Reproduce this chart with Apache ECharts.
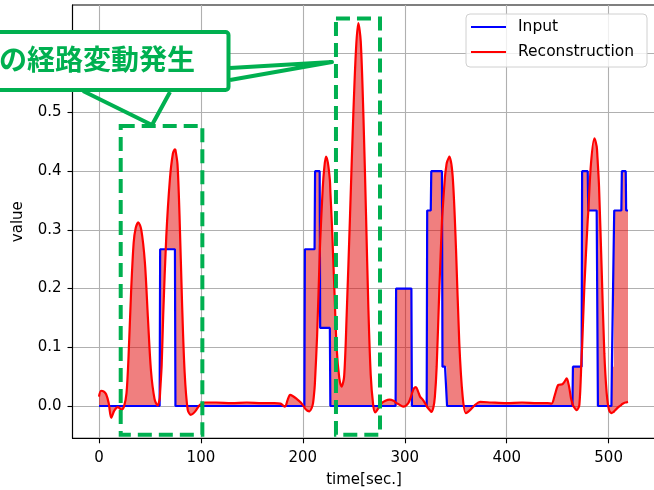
<!DOCTYPE html>
<html><head><meta charset="utf-8">
<script src="https://cdn.jsdelivr.net/npm/echarts@6/dist/echarts.min.js"></script>
<style>html,body{margin:0;padding:0;background:#fff}#c{width:654px;height:490px}</style>
</head><body><div id="c"></div>
<script>
// time [sec.]  (10 samples per line; the three arrays below are aligned line by line)
const time = [
  0,2,4.5,7,9.5,12,15,18.5,22,24.5,
  27,29,31.5,34,36,38.5,41.5,45,48,51,
  54.5,57.5,59.5,60,61.5,63,66,69.5,72.5,74.5,
  75,77,79,81.5,84,87,90,94,99,104,
  115,130,145,160,172,178,182.5,185,187.5,190,
  194,198,201.5,202,204.5,206.5,208.5,210,211.5,212,
  214,216.5,217,219.5,221,222.7,224.5,226.5,227,228.5,
  231,233.2,235.8,238,240.5,243,246.3,249.5,252.2,254.4,
  256.8,259.4,262,264.3,266.6,269,271,274,277.5,281,
  285,289,291,291.5,294,298.5,303.5,306.5,307,309,
  311,313,315,318,321.5,322,325.5,326,328,329.5,
  331.3,333.9,336.5,337,339.5,341,341.5,343.7,347,350.3,
  353.5,356.8,360,364,369,374,385,400,415,430,
  440,444,447.4,450.7,454.6,456.6,458.9,461.2,463.1,464.5,
  465,468.7,471.3,473.5,474,476.2,479.5,480,482.7,486,
  488.3,489,489.5,490.6,493.2,495.8,498.1,500.4,502.8,503.2,
  505,505.5,509.5,512.5,513,516.8,517.2,519];
// Input (step signal)
const input = [
  0,0,0,0,0,0,0,0,0,0,
  0,0,0,0,0,0,0,0,0,0,
  0,0,0,0.267,0.267,0.267,0.267,0.267,0.267,0.267,
  0,0,0,0,0,0,0,0,0,0,
  0,0,0,0,0,0,0,0,0,0,
  0,0,0,0.267,0.267,0.267,0.267,0.267,0.267,0.4,
  0.4,0.4,0.133,0.133,0.133,0.133,0.133,0.133,0,0,
  0,0,0,0,0,0,0,0,0,0,
  0,0,0,0,0,0,0,0,0,0,
  0,0,0,0.2,0.2,0.2,0.2,0.2,0,0,
  0,0,0,0,0,0.333,0.333,0.4,0.4,0.4,
  0.4,0.4,0.4,0.067,0.067,0.067,0,0,0,0,
  0,0,0,0,0,0,0,0,0,0,
  0,0,0,0,0,0,0,0,0,0,
  0.067,0.067,0.067,0.067,0.4,0.4,0.4,0.333,0.333,0.333,
  0.333,0.333,0,0,0,0,0,0,0,0.067,
  0.067,0.333,0.333,0.333,0.4,0.4,0.333,0.333];
// Reconstruction
const recon = [
  0.016,0.026,0.025,0.020,0.005,-0.020,-0.008,-0.002,-0.006,-0.001,
  0.022,0.085,0.195,0.278,0.303,0.313,0.300,0.245,0.150,0.060,
  0.012,0.001,0.012,0.025,0.070,0.155,0.288,0.385,0.430,0.437,
  0.436,0.412,0.325,0.175,0.058,-0.006,-0.015,-0.010,0.002,0.006,
  0.006,0.005,0.006,0.005,0.005,0.004,-0.001,0.010,0.019,0.017,
  0.012,0.006,-0.002,-0.004,-0.008,-0.009,-0.004,0.005,0.030,0.045,
  0.120,0.255,0.280,0.371,0.405,0.425,0.415,0.385,0.365,0.310,
  0.195,0.098,0.047,0.033,0.050,0.155,0.325,0.496,0.609,0.652,
  0.621,0.496,0.325,0.166,0.053,0.002,-0.011,-0.004,0.005,0.009,
  0.011,0.009,0.006,0.005,0.003,-0.001,0.005,0.018,0.021,0.030,
  0.032,0.025,0.016,0.010,0.000,-0.002,-0.009,-0.010,-0.003,0.015,
  0.067,0.198,0.315,0.330,0.391,0.412,0.416,0.425,0.391,0.266,
  0.107,0.016,-0.012,-0.007,0.002,0.007,0.006,0.005,0.006,0.005,
  0.005,0.004,0.020,0.036,0.037,0.041,0.047,0.033,0.013,0.004,
  0.001,-0.007,0.002,0.085,0.100,0.203,0.317,0.330,0.413,0.456,
  0.442,0.425,0.410,0.374,0.232,0.090,0.022,-0.007,-0.012,-0.012,
  -0.010,-0.009,-0.002,0.002,0.003,0.006,0.006,0.007];

const xTicks = [0,100,200,300,400,500];
const yTicks = [0,0.1,0.2,0.3,0.4,0.5,0.6];
// highlighted regions [t0, t1, v0, v1]
const highlightBoxes = [[21.3,101.4,-0.049,0.477],[232.5,275.7,-0.049,0.660]];
const calloutText = 'の経路変動発生';

const FONT = 'DejaVu Sans';
const GREEN = '#00B050';

const n = Math.min(time.length, input.length, recon.length);
const idx = Array.from({length:n},(_,i)=>i);
const inputData = idx.map(i=>[time[i],input[i]]);
const reconData = idx.map(i=>[time[i],recon[i]]);
const fillData = idx.map(i=>[time[i],input[i],recon[i]]);

const chart = echarts.init(document.getElementById('c'), null, {renderer:'canvas'});
const axisCommon = {
  axisLine:{show:true,onZero:false,lineStyle:{color:'#000',width:1.1}},
  axisTick:{show:true,inside:false,length:5,lineStyle:{color:'#000',width:1.1}},
  splitLine:{show:true,lineStyle:{color:'#b0b0b0',width:1.1}},
  axisLabel:{fontFamily:FONT,fontSize:15,color:'#000'},
  nameTextStyle:{fontFamily:FONT,fontSize:15,color:'#000'}
};
chart.setOption({
  animation:false,
  backgroundColor:'#fff',
  grid:{left:72.5,top:5,width:583,height:433.3,show:true,borderColor:'#000',borderWidth:1.1,containLabel:false,outerBoundsMode:'none'},
  xAxis:{type:'value',min:-26,max:546,name:'time[sec.]',nameLocation:'middle',nameGap:34,
    ...axisCommon,
    axisTick:{...axisCommon.axisTick,customValues:xTicks},
    axisLabel:{...axisCommon.axisLabel,margin:12,customValues:xTicks,formatter:v=>String(v)}},
  yAxis:{type:'value',min:-0.055,max:0.683,name:'value',nameLocation:'middle',nameGap:47,nameRotate:90,
    ...axisCommon,
    axisTick:{...axisCommon.axisTick,customValues:yTicks},
    axisLabel:{...axisCommon.axisLabel,margin:11,customValues:yTicks,formatter:v=>v.toFixed(1)}},
  legend:{orient:'vertical',left:466,top:14,data:['Input','Reconstruction'],
    icon:'rect',itemWidth:35,itemHeight:2,itemGap:7,
    textStyle:{fontFamily:FONT,fontSize:15.5,color:'#000',lineHeight:18,padding:[0,0,0,7]},
    backgroundColor:'rgba(255,255,255,0.8)',borderColor:'#d0d0d0',borderWidth:1,borderRadius:4,
    padding:[4,13,6,5]},
  series:[
    {name:'fill',type:'custom',data:fillData,encode:{x:0,y:[1,2]},silent:true,z:1,clip:true,
      renderItem:function(params,api){
        if (params.dataIndex !== 0) return null;
        const pts = [];
        for (let i=0;i<n;i++) pts.push(api.coord([time[i],input[i]]));
        for (let i=n-1;i>=0;i--) pts.push(api.coord([time[i],recon[i]]));
        return {type:'polygon',shape:{points:pts},style:{fill:'rgba(225,0,0,0.5)',stroke:null}};
      }},
    {name:'Input',type:'line',data:inputData,symbol:'none',color:'#0000ff',
      lineStyle:{color:'#0000ff',width:2.2},z:2},
    {name:'Reconstruction',type:'line',data:reconData,symbol:'none',smooth:0.3,color:'#ff0000',
      lineStyle:{color:'#ff0000',width:2.2},z:3}
  ]
});

const graphics = [];
highlightBoxes.forEach(b=>{
  const p0 = chart.convertToPixel({gridIndex:0},[b[0],b[3]]);
  const p1 = chart.convertToPixel({gridIndex:0},[b[1],b[2]]);
  graphics.push({type:'rect',z:100,shape:{x:p0[0],y:p0[1],width:p1[0]-p0[0],height:p1[1]-p0[1]},
    style:{fill:null,stroke:GREEN,lineWidth:4,lineDash:[14,7]}});
});
// callout
graphics.push({type:'rect',z:110,shape:{x:-10,y:32,width:238.5,height:58,r:3},
  style:{fill:'#fff',stroke:GREEN,lineWidth:4}});
graphics.push({type:'polyline',z:110,shape:{points:[[83,91],[152,125],[170,92]]},
  style:{fill:null,stroke:GREEN,lineWidth:4,lineJoin:'round'}});
graphics.push({type:'polyline',z:110,shape:{points:[[230,68],[332,62],[230,80]]},
  style:{fill:null,stroke:GREEN,lineWidth:4,lineJoin:'round'}});
graphics.push({type:'text',z:120,style:{x:-1,y:59,text:calloutText,fill:GREEN,
  font:'bold 28px "Noto Sans CJK JP"',textVerticalAlign:'middle',textAlign:'left'}});
chart.setOption({graphic:graphics});
</script></body></html>
